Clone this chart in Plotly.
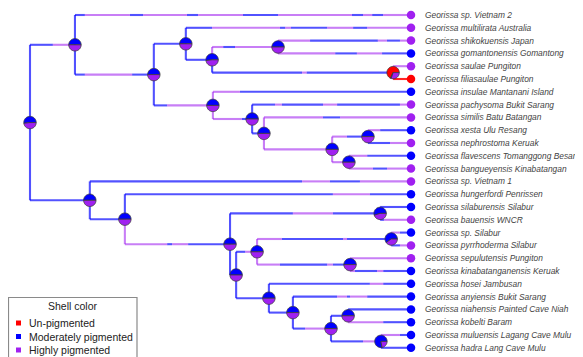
import math
import plotly.graph_objects as go

# ---------------- data ----------------
tip_labels = [
    "Georissa sp. Vietnam 2",
    "Georissa multilirata Australia",
    "Georissa shikokuensis Japan",
    "Georissa gomantonensis Gomantong",
    "Georissa saulae Pungiton",
    "Georissa filiasaulae Pungiton",
    "Georissa insulae Mantanani Island",
    "Georissa pachysoma Bukit Sarang",
    "Georissa similis Batu Batangan",
    "Georissa xesta Ulu Resang",
    "Georissa nephrostoma Keruak",
    "Georissa flavescens Tomanggong Besar",
    "Georissa bangueyensis Kinabatangan",
    "Georissa sp. Vietnam 1",
    "Georissa hungerfordi Penrissen",
    "Georissa silaburensis Silabur",
    "Georissa bauensis WNCR",
    "Georissa sp. Silabur",
    "Georissa pyrrhoderma Silabur",
    "Georissa sepulutensis Pungiton",
    "Georissa kinabatanganensis Keruak",
    "Georissa hosei Jambusan",
    "Georissa anyiensis Bukit Sarang",
    "Georissa niahensis Painted Cave Niah",
    "Georissa kobelti Baram",
    "Georissa muluensis Lagang Cave Mulu",
    "Georissa hadra Lang Cave Mulu",
]
tip_ids = ["t%d" % (i + 1) for i in range(len(tip_labels))]
tip_states = ["P", "P", "P", "B", "P", "R", "B", "P", "P", "B", "P", "B", "P", "P",
              "B", "B", "P", "B", "P", "P", "B", "B", "B", "B", "B", "B", "B"]
tip_parent = ["A", "C", "E", "E", "F", "F", "G", "H", "I", "K", "K", "L", "L", "M",
              "N", "P", "P", "R", "R", "S", "S", "U", "V", "X", "X", "Y", "Y"]
tip_depth = 100.0

node_names = ["root", "A", "B", "C", "D", "E", "F", "G", "H", "I", "J", "K", "L",
              "M", "N", "O", "P", "Q", "R", "S", "T", "U", "V", "W", "X", "Y"]
node_parent = [None, "root", "A", "B", "C", "D", "D", "B", "G", "H", "I", "J", "J",
               "root", "M", "N", "O", "O", "T", "T", "Q", "Q", "U", "V", "W", "W"]
node_depth = [0.0, 11.8, 32.5, 40.9, 47.8, 65.1, 95.3, 48.0, 58.3, 61.4, 79.3, 88.7, 83.7,
              15.7, 24.9, 52.5, 91.9, 54.1, 94.8, 84.0, 59.6, 62.7, 69.0, 79.0, 83.5, 92.1]

# posterior probabilities at nodes: un-pigmented, moderately, highly
pie_red = [0, 0, 0, 0, 0, 0, 0.68, 0, 0, 0, 0, 0, 0,
           0, 0, 0, 0, 0, 0, 0, 0, 0, 0, 0, 0, 0]
pie_blue = [0.52, 0.5, 0.5, 0.5, 0.52, 0.5, 0.02, 0.5, 0.5, 0.5, 0.5, 0.5, 0.5,
            0.5, 0.5, 0.5, 0.55, 0.5, 0.6, 0.5, 0.5, 0.5, 0.5, 0.5, 0.5, 0.78]
pie_purple = [0.48, 0.5, 0.5, 0.5, 0.48, 0.5, 0.30, 0.5, 0.5, 0.5, 0.5, 0.5, 0.5,
              0.5, 0.5, 0.5, 0.45, 0.5, 0.4, 0.5, 0.5, 0.5, 0.5, 0.5, 0.5, 0.22]

# stochastic character map along each branch: (state, end depth)
branch_maps = {
    "A": [("B", 6.0), ("P", 11.8)],
    "t1": [("B", 14.4), ("P", 26.2), ("B", 29.7), ("P", 41.2), ("B", 44.1), ("P", 55.9),
           ("B", 65.1), ("P", 84.5), ("B", 87.4), ("P", 89.8), ("B", 92.7), ("P", 100)],
    "B": [("B", 14.4), ("P", 26.8), ("B", 32.5)],
    "C": [("B", 40.9)],
    "t2": [("B", 47.8), ("P", 65.6), ("B", 67.0), ("P", 68.5), ("B", 78.0), ("P", 84.8),
           ("B", 88.5), ("P", 100)],
    "D": [("B", 47.8)],
    "E": [("P", 50.7), ("B", 53.8), ("P", 65.1)],
    "t3": [("P", 73.5), ("B", 91.3), ("P", 93.7), ("B", 97.1), ("P", 100)],
    "t4": [("P", 80.1), ("B", 85.8), ("P", 92.4), ("B", 100)],
    "F": [("B", 71.4), ("P", 72.6), ("B", 95.3)],
    "t5": [("P", 100)],
    "t6": [("R", 100)],
    "G": [("B", 36.0), ("P", 48.0)],
    "t7": [("P", 55.1), ("B", 100)],
    "H": [("P", 55.6), ("B", 58.3)],
    "t8": [("B", 64.3), ("P", 66.1), ("B", 76.9), ("P", 80.6), ("B", 97.1), ("P", 100)],
    "I": [("B", 61.4)],
    "t9": [("P", 76.9), ("B", 81.4), ("P", 100)],
    "J": [("P", 79.3)],
    "K": [("P", 83.2), ("B", 88.7)],
    "t10": [("P", 91.9), ("B", 100)],
    "t11": [("B", 94.5), ("P", 100)],
    "L": [("P", 83.7)],
    "t12": [("P", 88.5), ("B", 100)],
    "t13": [("P", 90.0), ("B", 93.7), ("P", 100)],
    "M": [("B", 15.7)],
    "t14": [("B", 71.4), ("P", 78.7), ("B", 86.6), ("P", 100)],
    "N": [("B", 24.9)],
    "t15": [("B", 79.5), ("P", 89.2), ("B", 100)],
    "O": [("P", 36.0), ("B", 37.3), ("P", 41.5), ("B", 52.5)],
    "P": [("B", 69.0), ("P", 79.5), ("B", 91.9)],
    "t16": [("B", 100)],
    "t17": [("B", 92.9), ("P", 100)],
    "Q": [("B", 54.1)],
    "T": [("B", 56.5), ("P", 59.6)],
    "R": [("P", 66.1), ("B", 82.2), ("P", 83.2), ("B", 94.8)],
    "t18": [("P", 97.1), ("B", 100)],
    "t19": [("B", 97.1), ("P", 100)],
    "S": [("P", 65.6), ("B", 78.0), ("P", 79.5), ("B", 84.0)],
    "t20": [("P", 100)],
    "t21": [("P", 85.3), ("B", 91.1), ("P", 92.7), ("B", 100)],
    "U": [("B", 62.7)],
    "t22": [("B", 89.2), ("P", 92.7), ("B", 100)],
    "V": [("B", 69.0)],
    "t23": [("B", 80.6), ("P", 83.2), ("B", 84.0), ("P", 88.5), ("B", 100)],
    "W": [("B", 72.2), ("P", 79.0)],
    "X": [("B", 83.5)],
    "t24": [("B", 100)],
    "t25": [("P", 92.7), ("B", 100)],
    "Y": [("B", 87.4), ("P", 92.1)],
    "t26": [("P", 97.1), ("B", 100)],
    "t27": [("B", 100)],
}

legend_labels = ["Un-pigmented", "Moderately pigmented", "Highly pigmented"]
legend_states = ["R", "B", "P"]

# ---------------- styles ----------------
dot_colors = {"R": "#FF0000", "B": "#0000FF", "P": "#A020F0"}
line_colors = {"R": "rgba(255,0,0,0.85)", "B": "rgba(0,0,255,0.68)", "P": "rgba(160,32,240,0.58)"}
# the page body keeps its default 8px margin, so the figure is 8px smaller
W, H = 575, 349
FONT = "Liberation Sans, Arial, sans-serif"

# ---------------- layout of the tree ----------------
parent_of = {}
depth = {}
children = {}
for n, p, d in zip(node_names, node_parent, node_depth):
    parent_of[n] = p
    depth[n] = d
    if p is not None:
        children.setdefault(p, []).append(n)
ypos = {}
for i, (t, p) in enumerate(zip(tip_ids, tip_parent)):
    parent_of[t] = p
    depth[t] = tip_depth
    ypos[t] = i + 1
    children.setdefault(p, []).append(t)


def get_y(n):
    if n in ypos:
        return ypos[n]
    ys = [get_y(c) for c in children[n]]
    ypos[n] = (min(ys) + max(ys)) / 2.0
    return ypos[n]


get_y("root")

seg_x = {"R": [], "B": [], "P": []}
seg_y = {"R": [], "B": [], "P": []}
for child, segs in branch_maps.items():
    p = parent_of[child]
    x0 = depth[p]
    yc = ypos[child]
    s0 = segs[0][0]
    seg_x[s0] += [depth[p], depth[p], None]
    seg_y[s0] += [ypos[p], yc, None]
    for st, xe in segs:
        seg_x[st] += [x0, xe, None]
        seg_y[st] += [yc, yc, None]
        x0 = xe

fig = go.Figure()
for st in ["B", "P", "R"]:
    fig.add_trace(go.Scatter(x=seg_x[st], y=seg_y[st], mode="lines",
                             line=dict(color=line_colors[st], width=2.1),
                             hoverinfo="skip", showlegend=False))

fig.add_trace(go.Scatter(x=[tip_depth] * len(tip_ids), y=[ypos[t] for t in tip_ids],
                         mode="markers",
                         marker=dict(size=8.5, color=[dot_colors[s] for s in tip_states],
                                     line=dict(width=0)),
                         hoverinfo="skip", showlegend=False))

shapes = []
R_PIE = 6.2
for n, pr, pb, pp in zip(node_names, pie_red, pie_blue, pie_purple):
    a = 0.0
    for frac, st in zip([pr, pb, pp], ["R", "B", "P"]):
        if frac <= 0:
            continue
        a1 = a + 360.0 * frac
        nstep = max(2, int(math.ceil((a1 - a) / 6.0)))
        pts = ["M 0,0"]
        for k in range(nstep + 1):
            ang = math.radians(a + (a1 - a) * k / nstep)
            pts.append("L %.3f,%.3f" % (R_PIE * math.cos(ang), R_PIE * math.sin(ang)))
        pts.append("Z")
        shapes.append(dict(type="path", xref="x", yref="y", xsizemode="pixel", ysizemode="pixel",
                           xanchor=depth[n], yanchor=ypos[n], path=" ".join(pts),
                           fillcolor=dot_colors[st], line=dict(color="#3a3a3a", width=0.8),
                           layer="above"))
        a = a1


def px(xp):
    return xp / W


def py(yp):
    return 1 - yp / H


shapes.append(dict(type="rect", xref="paper", yref="paper", x0=px(0.5), x1=px(129), y0=py(380), y1=py(289.5),
                   line=dict(color="#8a8a8a", width=1.2), fillcolor="rgba(0,0,0,0)", layer="above"))
annotations = []
annotations.append(dict(xref="paper", yref="paper", x=px(65), y=py(298), text="Shell color",
                        showarrow=False, xanchor="center", yanchor="middle",
                        font=dict(family=FONT, size=10.5, color="#222")))
for i, (lab, st) in enumerate(zip(legend_labels, legend_states)):
    yy = 315 + i * 13.5
    shapes.append(dict(type="rect", xref="paper", yref="paper", x0=px(8), x1=px(13), y0=py(yy + 2.5),
                       y1=py(yy - 2.5), fillcolor=dot_colors[st], line=dict(width=0), layer="above"))
    annotations.append(dict(xref="paper", yref="paper", x=px(19), y=py(yy), text=lab,
                            showarrow=False, xanchor="left", yanchor="middle",
                            font=dict(family=FONT, size=10.5, color="#222")))

for t, lab in zip(tip_ids, tip_labels):
    annotations.append(dict(x=tip_depth, y=ypos[t], xref="x", yref="y", text="<i>%s</i>" % lab,
                            showarrow=False, xanchor="left", yanchor="middle", xshift=12,
                            font=dict(family=FONT, size=8.4, color="#444")))

fig.update_layout(
    width=W, height=H, margin=dict(l=0, r=0, t=0, b=0),
    paper_bgcolor="white", plot_bgcolor="white",
    xaxis=dict(range=[-5.774, 145.14], visible=False, fixedrange=True),
    yaxis=dict(range=[27.72, 0.453], visible=False, fixedrange=True),
    shapes=shapes, annotations=annotations, showlegend=False,
)
fig.write_html("out.html")
